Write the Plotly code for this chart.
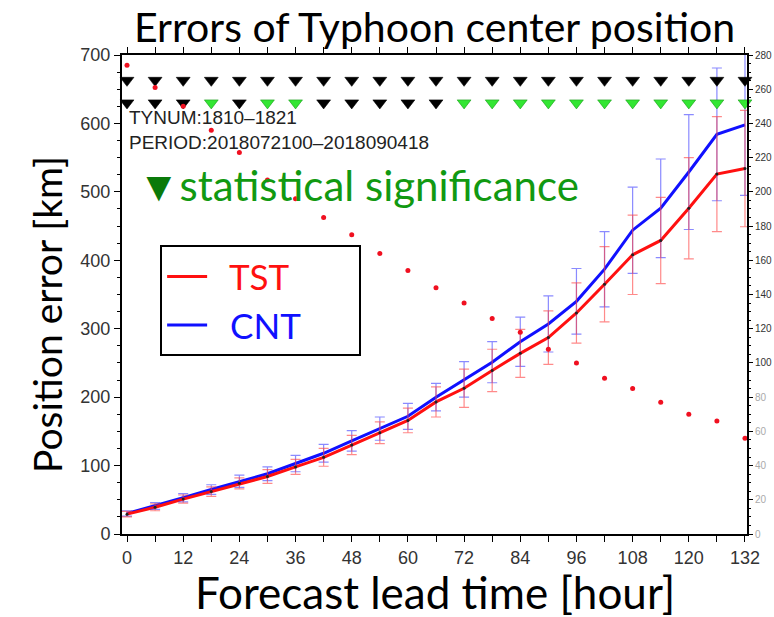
import plotly.graph_objects as go

hours = [0, 6, 12, 18, 24, 30, 36, 42, 48, 54, 60, 66, 72, 78, 84, 90, 96, 102, 108, 114, 120, 126, 132]
tst = [29, 39, 51, 62, 74, 84, 98, 112, 130, 148, 166, 193, 213, 239, 264, 287, 323, 365, 408, 429, 476, 526, 534]
cnt = [30, 41, 53, 65, 77, 88, 103, 118, 136, 154, 172, 200, 226, 251, 281, 307, 340, 387, 444, 476, 529, 584, 598]
tst_err = [4, 5, 6, 7, 8, 10, 11, 13, 14, 16, 18, 22, 28, 31, 35, 39, 44, 55, 58, 63, 74, 84, 85]
cnt_err = [4, 5, 6, 7, 9, 10, 12, 13, 15, 17, 19, 20, 26, 30, 36, 41, 48, 55, 63, 72, 84, 97, 103]
samples = [274, 261, 250, 236, 223, 207, 196, 185, 175, 164, 154, 144, 135, 126, 118, 108, 100, 91, 85, 77, 70, 66, 56]
# significance rows: 1 = significant (green), 0 = not (black)
sig_row1 = [0] * 23
sig_row2 = [0, 0, 0, 1, 0, 1, 1, 0, 0, 0, 0, 0, 1, 1, 1, 1, 1, 1, 1, 1, 1, 1, 1]
row_levels = [663, 630]

x_ticks = list(range(0, 133, 6))
x_ticktext = [str(h) if h % 12 == 0 else "" for h in x_ticks]
y2_ticks = list(range(0, 281, 20))
y2_ticktext = [str(v) if v >= 100 else '<span style="color:#aaaaaa">%d</span>' % v for v in y2_ticks]

GREEN_T = "#33e633"
NBSP = "\u00a0"
fig = go.Figure()

# lines
fig.add_trace(go.Scatter(x=hours, y=cnt, mode="lines",
                         name=NBSP * 2 + '<span style="color:#1010ff">CNT</span>' + NBSP * 6,
                         line=dict(color="#1010ff", width=3), legendrank=2, legendgroup="c"))
fig.add_trace(go.Scatter(x=hours, y=tst, mode="lines",
                         name=NBSP * 2 + '<span style="color:#ff1010">TST</span>' + NBSP * 6,
                         line=dict(color="#ff1010", width=3), legendrank=1, legendgroup="t"))
# error bars
fig.add_trace(go.Scatter(x=hours, y=cnt, mode="markers", showlegend=False,
                         marker=dict(size=1, color="rgba(0,0,0,0)"),
                         error_y=dict(type="data", array=cnt_err, color="rgba(60,60,255,0.6)",
                                      thickness=1.2, width=5)))
fig.add_trace(go.Scatter(x=hours, y=tst, mode="markers", showlegend=False,
                         marker=dict(size=3, color="#222"),
                         error_y=dict(type="data", array=tst_err, color="rgba(255,60,60,0.6)",
                                      thickness=1.2, width=5)))
# sample counts (right axis)
fig.add_trace(go.Scatter(x=hours, y=samples, mode="markers", yaxis="y2", showlegend=False,
                         marker=dict(size=5, color="#f01020")))
# significance triangles
for lvl, row in zip(row_levels, [sig_row1, sig_row2]):
    fig.add_trace(go.Scatter(x=hours, y=[lvl] * len(hours), mode="markers", showlegend=False,
                             cliponaxis=False,
                             marker=dict(symbol="triangle-down", size=12,
                                         color=[GREEN_T if s else "black" for s in row],
                                         line=dict(width=0.6, color=["#1a9a1a" if s else "black" for s in row]))))

tickfont = dict(family="Liberation Sans, Arial", size=18, color="#333")
fig.update_layout(
    width=774, height=617,
    margin=dict(l=122, r=27, t=55, b=83, autoexpand=False),
    plot_bgcolor="white", paper_bgcolor="white",
    showlegend=True,
    legend=dict(x=0.061, y=0.603, xanchor="left", yanchor="top",
                bordercolor="black", borderwidth=2, bgcolor="white",
                font=dict(family="Lato", size=35, color="black"), tracegroupgap=0,
                itemwidth=40),
    xaxis=dict(range=[-1.07, 132.43], tickvals=x_ticks, ticktext=x_ticktext, automargin=False,
               ticks="outside", ticklen=6, tickwidth=1, tickcolor="black",
               showline=True, linecolor="black", linewidth=2, mirror="ticks",
               showgrid=False, zeroline=False, tickfont=tickfont),
    yaxis=dict(range=[0, 700], dtick=100, ticks="outside", ticklen=6, tickwidth=1, tickcolor="black",
               minor=dict(dtick=25, ticks="outside", ticklen=3, tickcolor="black"), automargin=False,
               showline=True, linecolor="black", linewidth=2,
               showgrid=False, zeroline=False, tickfont=tickfont),
    yaxis2=dict(range=[0, 280], overlaying="y", side="right", tickvals=y2_ticks, ticktext=y2_ticktext,
                ticks="outside", ticklen=4, tickwidth=1, tickcolor="black", automargin=False,
                ticklabelstandoff=0,
                minor=dict(dtick=5, ticks="outside", ticklen=2, tickcolor="black"),
                showline=True, linecolor="black", linewidth=2,
                showgrid=False, zeroline=False,
                tickfont=dict(family="Liberation Sans, Arial", size=10, color="#333")),
)

def px_x(px):
    return (px - 122) / 625.0

def px_y(py):
    return (534 - py) / 479.0

fig.add_annotation(text="Errors of Typhoon center position", xref="paper", yref="paper",
                   x=0.5, y=px_y(0), xanchor="center", yanchor="top", showarrow=False,
                   font=dict(family="Lato", size=41, color="black"))
fig.add_annotation(text="Position error [km]", xref="paper", yref="paper", textangle=-90,
                   x=px_x(47), y=px_y(315), xanchor="center", yanchor="middle", showarrow=False,
                   font=dict(family="Lato", size=39, color="black"))
fig.add_annotation(text="Forecast lead time [hour]", xref="paper", yref="paper",
                   x=px_x(435), y=px_y(592), xanchor="center", yanchor="middle", showarrow=False,
                   font=dict(family="Lato", size=44, color="black"))
fig.add_annotation(text="TYNUM:1810\u20131821", xref="paper", yref="paper",
                   x=px_x(127), y=px_y(118), xanchor="left", yanchor="middle", showarrow=False,
                   font=dict(family="Liberation Sans, Arial", size=19, color="#222"))
fig.add_annotation(text="PERIOD:2018072100\u20132018090418", xref="paper", yref="paper",
                   x=px_x(127), y=px_y(142), xanchor="left", yanchor="middle", showarrow=False,
                   font=dict(family="Liberation Sans, Arial", size=19, color="#222"))
fig.add_annotation(text='<span style="color:#0a7a0a">\u25bc</span>statistical significance',
                   xref="paper", yref="paper",
                   x=px_x(136), y=px_y(185), xanchor="left", yanchor="middle", showarrow=False,
                   font=dict(family="Lato", size=42, color="#119911"))

fig.write_html("out.html")
